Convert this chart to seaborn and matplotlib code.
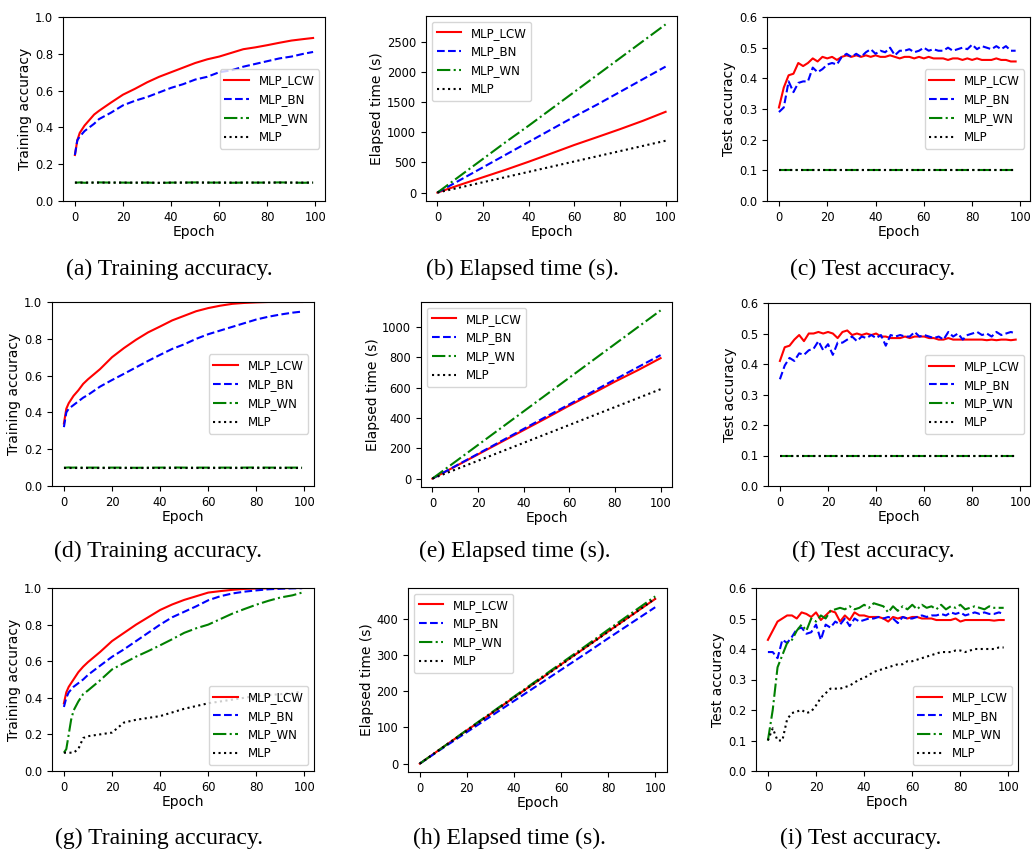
import numpy as np
import pandas as pd
import matplotlib
matplotlib.use('Agg')
import matplotlib.pyplot as plt
import seaborn as sns

names = ['MLP_LCW', 'MLP_BN', 'MLP_WN', 'MLP']
colors = ['red', 'blue', 'green', 'black']
styles = ['-', '--', '-.', ':']

train_ep = [0, 1, 2, 3, 4, 6, 8, 10, 15, 20, 25, 30, 35, 40, 45, 50, 55, 60, 65, 70, 75, 80, 85, 90, 95, 99]
time_ep = [0, 10, 20, 30, 40, 50, 60, 70, 80, 90, 100]
test_ep = list(range(0, 100, 2))

# ---- row 1 ----
a_lcw = [0.25, 0.33, 0.37, 0.39, 0.41, 0.44, 0.47, 0.49, 0.535, 0.578, 0.61, 0.645, 0.675, 0.70, 0.725, 0.75, 0.77, 0.785, 0.805, 0.825, 0.835, 0.847, 0.86, 0.872, 0.88, 0.886]
a_bn = [0.25, 0.33, 0.35, 0.365, 0.38, 0.40, 0.42, 0.445, 0.48, 0.52, 0.545, 0.565, 0.59, 0.615, 0.635, 0.66, 0.675, 0.70, 0.71, 0.73, 0.745, 0.76, 0.775, 0.785, 0.80, 0.81]
a_wn = [0.10, 0.10, 0.101, 0.10, 0.099, 0.10, 0.10, 0.101, 0.10, 0.10, 0.099, 0.10, 0.098, 0.10, 0.10, 0.101, 0.10, 0.10, 0.099, 0.10, 0.10, 0.10, 0.101, 0.10, 0.099, 0.10]
a_mlp = [0.10, 0.10, 0.10, 0.10, 0.10, 0.10, 0.10, 0.10, 0.10, 0.10, 0.10, 0.10, 0.099, 0.10, 0.10, 0.10, 0.10, 0.10, 0.10, 0.10, 0.10, 0.10, 0.10, 0.10, 0.10, 0.10]

b_lcw = [0, 130, 255, 380, 512, 650, 790, 920, 1052, 1190, 1340]
b_bn = [0, 210, 420, 630, 840, 1050, 1260, 1460, 1670, 1880, 2090]
b_wn = [0, 280, 560, 840, 1110, 1390, 1670, 1950, 2230, 2510, 2790]
b_mlp = [0, 86, 172, 258, 344, 430, 516, 602, 688, 774, 860]

c_lcw = [0.305, 0.37, 0.41, 0.415, 0.45, 0.44, 0.45, 0.465, 0.455, 0.47, 0.465, 0.47, 0.46, 0.47, 0.475,
         0.47, 0.475, 0.47, 0.475, 0.47, 0.475, 0.47, 0.47, 0.475, 0.47, 0.465, 0.47, 0.47, 0.465, 0.47,
         0.465, 0.47, 0.465, 0.465, 0.465, 0.46, 0.465, 0.465, 0.46, 0.465, 0.46, 0.465, 0.46, 0.46, 0.46,
         0.465, 0.46, 0.46, 0.455, 0.455]
c_bn = [0.29, 0.305, 0.39, 0.355, 0.385, 0.39, 0.39, 0.435, 0.42, 0.43, 0.445, 0.45, 0.445, 0.47, 0.48,
        0.47, 0.48, 0.47, 0.485, 0.495, 0.48, 0.49, 0.485, 0.50, 0.475, 0.49, 0.49, 0.495, 0.485, 0.49,
        0.50, 0.49, 0.495, 0.49, 0.49, 0.50, 0.49, 0.495, 0.50, 0.495, 0.51, 0.495, 0.505, 0.50, 0.495,
        0.505, 0.495, 0.505, 0.49, 0.49]
c_wn = [0.10] * 50
c_mlp = [0.10] * 50

# ---- row 2 ----
d_lcw = [0.34, 0.42, 0.45, 0.47, 0.49, 0.52, 0.555, 0.58, 0.635, 0.70, 0.75, 0.795, 0.835, 0.867, 0.90, 0.925, 0.95, 0.967, 0.98, 0.99, 0.995, 0.998, 1.0, 1.0, 1.0, 1.0]
d_bn = [0.32, 0.40, 0.42, 0.43, 0.44, 0.46, 0.48, 0.495, 0.54, 0.576, 0.61, 0.645, 0.68, 0.713, 0.745, 0.77, 0.80, 0.825, 0.845, 0.865, 0.885, 0.905, 0.92, 0.932, 0.942, 0.948]
d_wn = [0.10, 0.10, 0.101, 0.10, 0.10, 0.101, 0.10, 0.10, 0.10, 0.10, 0.10, 0.099, 0.10, 0.10, 0.101, 0.10, 0.10, 0.10, 0.10, 0.10, 0.10, 0.101, 0.10, 0.10, 0.10, 0.10]
d_mlp = [0.10] * 26

e_lcw = [0, 80, 160, 240, 320, 400, 482, 560, 640, 715, 795]
e_bn = [0, 82, 164, 246, 328, 410, 490, 572, 654, 735, 815]
e_wn = [0, 111, 222, 333, 444, 555, 666, 777, 888, 999, 1110]
e_mlp = [0, 59, 118, 177, 236, 295, 354, 413, 472, 531, 590]

f_lcw = [0.41, 0.455, 0.46, 0.48, 0.495, 0.475, 0.50, 0.50, 0.505, 0.50, 0.505, 0.50, 0.485, 0.505, 0.51,
         0.495, 0.50, 0.495, 0.50, 0.495, 0.50, 0.49, 0.49, 0.485, 0.485, 0.485, 0.49, 0.485, 0.49, 0.49,
         0.49, 0.485, 0.485, 0.48, 0.48, 0.485, 0.48, 0.48, 0.48, 0.48, 0.48, 0.48, 0.48, 0.478, 0.48,
         0.478, 0.48, 0.48, 0.478, 0.48]
f_bn = [0.35, 0.395, 0.42, 0.41, 0.435, 0.43, 0.445, 0.45, 0.475, 0.445, 0.465, 0.43, 0.47, 0.47, 0.48,
        0.49, 0.475, 0.49, 0.485, 0.495, 0.485, 0.495, 0.46, 0.495, 0.49, 0.495, 0.49, 0.49, 0.505, 0.49,
        0.495, 0.49, 0.485, 0.49, 0.48, 0.505, 0.49, 0.50, 0.48, 0.495, 0.50, 0.505, 0.495, 0.50, 0.49,
        0.505, 0.495, 0.50, 0.505, 0.50]
f_wn = [0.10] * 50
f_mlp = [0.10] * 50

# ---- row 3 ----
g_lcw = [0.37, 0.43, 0.46, 0.48, 0.50, 0.54, 0.57, 0.595, 0.65, 0.71, 0.755, 0.80, 0.84, 0.88, 0.91, 0.935, 0.955, 0.975, 0.983, 0.99, 0.995, 0.997, 0.998, 0.999, 1.0, 1.0]
g_bn = [0.35, 0.40, 0.43, 0.445, 0.46, 0.48, 0.50, 0.525, 0.575, 0.624, 0.665, 0.71, 0.755, 0.80, 0.84, 0.87, 0.90, 0.933, 0.955, 0.97, 0.98, 0.987, 0.993, 0.996, 0.998, 0.999]
g_wn = [0.10, 0.12, 0.20, 0.28, 0.33, 0.38, 0.42, 0.44, 0.495, 0.555, 0.59, 0.625, 0.655, 0.687, 0.72, 0.755, 0.78, 0.80, 0.83, 0.86, 0.885, 0.909, 0.93, 0.948, 0.96, 0.975]
g_mlp = [0.10, 0.10, 0.10, 0.10, 0.10, 0.12, 0.18, 0.19, 0.20, 0.21, 0.265, 0.28, 0.29, 0.30, 0.32, 0.34, 0.355, 0.37, 0.38, 0.39, 0.40, 0.41, 0.415, 0.42, 0.425, 0.435]

h_lcw = [0, 46, 92, 137, 183, 228, 274, 319, 365, 410, 455]
h_bn = [0, 44, 87, 130, 173, 216, 259, 302, 346, 389, 432]
h_wn = [0, 46, 93, 139, 185, 231, 277, 323, 370, 416, 462]
h_mlp = [0, 46, 91, 137, 182, 228, 273, 319, 364, 410, 456]

i_lcw = [0.43, 0.46, 0.49, 0.50, 0.51, 0.51, 0.50, 0.52, 0.515, 0.505, 0.52, 0.495, 0.51, 0.525, 0.52,
         0.49, 0.51, 0.495, 0.52, 0.51, 0.51, 0.505, 0.505, 0.505, 0.50, 0.49, 0.505, 0.50, 0.505, 0.50,
         0.505, 0.505, 0.50, 0.50, 0.50, 0.495, 0.495, 0.495, 0.495, 0.50, 0.49, 0.495, 0.495, 0.495, 0.495,
         0.495, 0.495, 0.493, 0.495, 0.495]
i_bn = [0.39, 0.39, 0.37, 0.43, 0.42, 0.44, 0.465, 0.47, 0.45, 0.455, 0.48, 0.43, 0.48, 0.47, 0.49,
        0.48, 0.50, 0.475, 0.50, 0.49, 0.495, 0.50, 0.50, 0.505, 0.50, 0.505, 0.50, 0.485, 0.505, 0.50,
        0.50, 0.505, 0.51, 0.505, 0.51, 0.51, 0.515, 0.51, 0.52, 0.515, 0.52, 0.51, 0.515, 0.52, 0.515,
        0.52, 0.515, 0.515, 0.52, 0.515]
i_wn = [0.10, 0.20, 0.34, 0.38, 0.42, 0.43, 0.46, 0.48, 0.46, 0.50, 0.49, 0.51, 0.50, 0.525, 0.53,
        0.535, 0.53, 0.54, 0.53, 0.535, 0.545, 0.535, 0.55, 0.545, 0.54, 0.52, 0.54, 0.525, 0.54, 0.53,
        0.545, 0.53, 0.545, 0.535, 0.54, 0.53, 0.545, 0.53, 0.54, 0.535, 0.545, 0.53, 0.535, 0.54, 0.535,
        0.53, 0.54, 0.535, 0.535, 0.535]
i_mlp = [0.10, 0.14, 0.10, 0.10, 0.17, 0.19, 0.195, 0.20, 0.19, 0.195, 0.215, 0.24, 0.255, 0.27, 0.27,
         0.27, 0.275, 0.28, 0.29, 0.30, 0.305, 0.315, 0.325, 0.33, 0.335, 0.34, 0.345, 0.35, 0.35, 0.36,
         0.36, 0.365, 0.37, 0.375, 0.38, 0.385, 0.39, 0.39, 0.39, 0.395, 0.395, 0.39, 0.395, 0.40, 0.40,
         0.40, 0.40, 0.40, 0.405, 0.405]

# panel setup: (x, series, ylabel, caption, legend loc, axes box in px, caption centre px)
panels = [
    (train_ep, [a_lcw, a_bn, a_wn, a_mlp], 'Training accuracy', '(a) Training accuracy.', 'center right', (63, 17, 325, 201), (169, 269)),
    (time_ep, [b_lcw, b_bn, b_wn, b_mlp], 'Elapsed time (s)', '(b) Elapsed time (s).', 'upper left', (426, 16, 677, 201), (522, 269)),
    (test_ep, [c_lcw, c_bn, c_wn, c_mlp], 'Test accuracy', '(c) Test accuracy.', 'center right', (767, 17, 1030, 201), (873, 269)),
    (train_ep, [d_lcw, d_bn, d_wn, d_mlp], 'Training accuracy', '(d) Training accuracy.', 'center right', (52, 302, 314, 486), (158, 551)),
    (time_ep, [e_lcw, e_bn, e_wn, e_mlp], 'Elapsed time (s)', '(e) Elapsed time (s).', 'upper left', (421, 302, 672, 487), (515, 551)),
    (test_ep, [f_lcw, f_bn, f_wn, f_mlp], 'Test accuracy', '(f) Test accuracy.', 'center right', (768, 303, 1030, 486), (873, 551)),
    (train_ep, [g_lcw, g_bn, g_wn, g_mlp], 'Training accuracy', '(g) Training accuracy.', 'lower right', (52, 588, 314, 771), (159, 838)),
    (time_ep, [h_lcw, h_bn, h_wn, h_mlp], 'Elapsed time (s)', '(h) Elapsed time (s).', 'upper left', (408, 588, 667, 772), (509, 838)),
    (test_ep, [i_lcw, i_bn, i_wn, i_mlp], 'Test accuracy', '(i) Test accuracy.', 'lower right', (756, 588, 1018, 771), (861, 838)),
]

W, H = 1032, 852
fig = plt.figure(figsize=(W / 100, H / 100), dpi=100)

for x, series, ylab, cap, loc, box, cpos in panels:
    l, t, r, b = box
    ax = fig.add_axes([l / W, 1 - b / H, (r - l) / W, (b - t) / H])
    for name, col, ls, y in zip(names, colors, styles, series):
        df = pd.DataFrame({'epoch': x, 'val': y})
        sns.lineplot(data=df, x='epoch', y='val', color=col, linestyle=ls,
                     linewidth=1.5, label=name, ax=ax)
    ax.set_xlabel('Epoch', fontsize=10, labelpad=1)
    ax.set_ylabel(ylab, fontsize=10, labelpad=2)
    ax.tick_params(labelsize=8.3)
    if ylab == 'Training accuracy':
        ax.set_ylim(0, 1.0)
        ax.set_xlim(-4.95, 103.95)
    elif ylab == 'Test accuracy':
        ax.set_ylim(0, 0.6)
        ax.set_xlim(-4.95, 103.95)
    else:
        ax.set_xlim(-5, 105)
    ax.set_xticks([0, 20, 40, 60, 80, 100])
    ax.legend(loc=loc, fontsize=8.5, handlelength=2.1)
    fig.text(cpos[0] / W, 1 - cpos[1] / H, cap, ha='center', va='center',
             fontsize=17, family='Liberation Serif')

fig.savefig('out.png', dpi=100)
